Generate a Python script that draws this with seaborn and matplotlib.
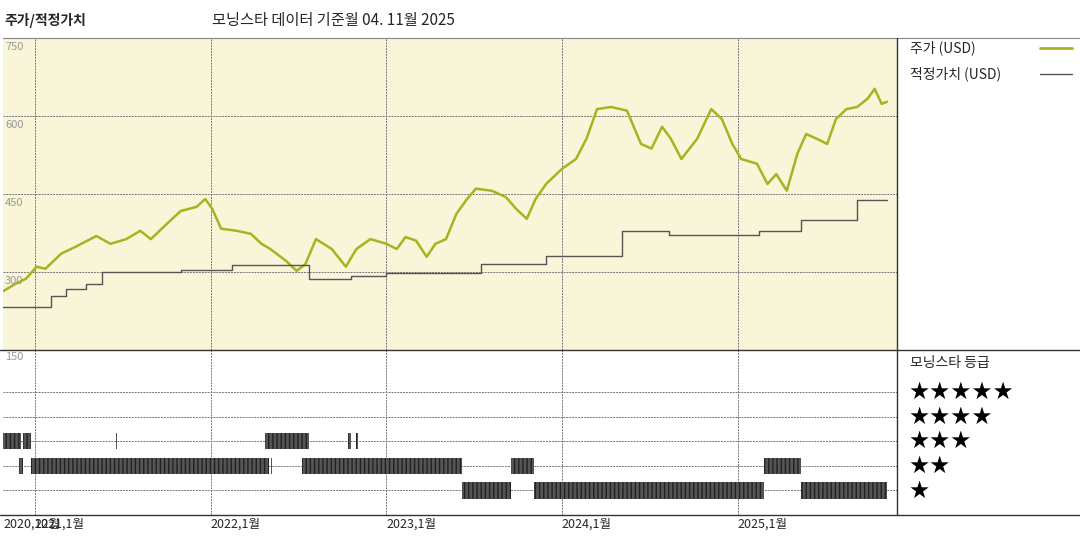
import matplotlib
matplotlib.use("Agg")
import matplotlib.pyplot as plt
import seaborn as sns
import pandas as pd
from matplotlib.lines import Line2D

sns.set_style("white")
plt.rcParams['font.family'] = ['Noto Sans CJK KR', 'DejaVu Sans']

price_t = [2020.82,2020.89,2020.95,2021.01,2021.06,2021.15,2021.23,2021.35,2021.43,2021.52,2021.60,2021.66,2021.75,2021.83,2021.92,2021.97,2022.01,2022.06,2022.15,2022.23,2022.29,2022.34,2022.43,2022.49,2022.54,2022.60,2022.69,2022.77,2022.83,2022.91,2023.00,2023.06,2023.11,2023.17,2023.23,2023.28,2023.34,2023.40,2023.46,2023.51,2023.60,2023.68,2023.74,2023.80,2023.85,2023.91,2024.00,2024.08,2024.14,2024.20,2024.28,2024.37,2024.45,2024.51,2024.57,2024.62,2024.68,2024.77,2024.85,2024.91,2024.97,2025.02,2025.11,2025.17,2025.22,2025.28,2025.34,2025.39,2025.45,2025.51,2025.56,2025.62,2025.68,2025.74,2025.78,2025.82,2025.85]
price_v = [263,277,287,310,306,335,348,369,354,363,379,363,392,417,425,440,421,383,379,373,354,344,321,302,315,363,344,310,344,363,354,344,367,360,329,354,363,412,440,460,456,444,421,402,440,469,498,517,556,613,617,610,546,537,579,556,517,556,613,594,546,517,508,469,488,456,527,565,556,546,594,613,617,633,652,623,627]

fv_t = [2020.82,2021.09,2021.18,2021.29,2021.38,2021.83,2022.12,2022.56,2022.80,2023.00,2023.54,2023.91,2024.34,2024.61,2025.12,2025.36,2025.68,2025.85]
fv_v = [233,254,267,277,300,304,313,287,292,298,315,331,379,371,379,400,438,438]

rating_stars = [3,3,3,3,3,3, 2,2,2,2,2,2, 1,1,1]
rating_start = [2020.82,2020.93,2021.46,2022.31,2022.78,2022.83, 2020.91,2020.98,2022.345,2022.52,2023.71,2025.15, 2023.43,2023.84,2025.36]
rating_end   = [2020.92,2020.98,2021.47,2022.56,2022.80,2022.84, 2020.93,2022.33,2022.35,2023.43,2023.84,2025.36, 2023.71,2025.15,2025.85]

xticks = [2020.82, 2021.0, 2022.0, 2023.0, 2024.0, 2025.0]
xtick_labels = ["2020,12월", "2021,1월", "2022,1월", "2023,1월", "2024,1월", "2025,1월"]
yticks = [300, 450, 600, 750]

XMIN, XMAX = 2020.82, 2025.91
fig = plt.figure(figsize=(10.8, 5.4), dpi=100)
ax = fig.add_axes([0.003, 0.352, 0.828, 0.578])
ax2 = fig.add_axes([0.003, 0.046, 0.828, 0.306])

ax.set_facecolor("#F8F5D8")
dfp = pd.DataFrame({"t": price_t, "v": price_v})
dff = pd.DataFrame({"t": fv_t, "v": fv_v})
sns.lineplot(data=dfp, x="t", y="v", ax=ax, color="#A9B320", lw=1.8)
sns.lineplot(data=dff, x="t", y="v", ax=ax, color="#555555", lw=1.0, drawstyle="steps-post")
ax.set_xlim(XMIN, XMAX); ax.set_ylim(150, 750)
ax.set_xticks(xticks[1:]); ax.set_yticks(yticks)
ax.grid(True, ls=(0, (2, 1)), color="#777777", lw=0.7)
ax.tick_params(length=0, labelbottom=False, labelleft=False)
ax.set_xlabel(""); ax.set_ylabel("")
for s in ax.spines.values(): s.set_visible(False)
for y in yticks:
    ax.text(XMIN + 0.01, y - 8, str(y), fontsize=8, color="#999999", va="top", ha="left")

for st, a, b in zip(rating_stars, rating_start, rating_end):
    ax2.broken_barh([(a, b - a)], (st - 0.33, 0.66), facecolor="#555555",
                    edgecolor="#222222", hatch="||||", lw=0)
ax2.set_xlim(XMIN, XMAX); ax2.set_ylim(0, 6.7)
ax2.set_xticks(xticks[1:]); ax2.set_yticks([1, 2, 3, 4, 5])
ax2.grid(True, ls=(0, (2, 1)), color="#777777", lw=0.7)
ax2.tick_params(length=0, labelbottom=False, labelleft=False)
for s in ax2.spines.values(): s.set_visible(False)
ax2.text(XMIN + 0.01, 6.6, "150", fontsize=8, color="#999999", va="top", ha="left")
for x, lab in zip(xticks, xtick_labels):
    ax2.text(x, -0.1, lab, fontsize=9, va="top", ha="left", transform=ax2.transData, clip_on=False)

def fl(x0, y0, x1, y1, c="#333333", lw=1.0):
    fig.add_artist(Line2D([x0/1080, x1/1080], [1-y0/540, 1-y1/540], color=c, lw=lw))
fl(3, 38, 1080, 38, "#888888", 0.8)
fl(0, 350, 1080, 350)
fl(0, 515, 1080, 515)
fl(897, 38, 897, 515)
fl(1040, 48, 1072, 48, "#A9B320", 2.0)
fl(1040, 74, 1072, 74, "#555555", 1.0)

fig.text(4/1080, 1-20/540, "주가/적정가치", fontsize=10, fontweight="bold", va="center")
fig.text(212/1080, 1-20/540, "모닝스타 데이터 기준월 04. 11월 2025", fontsize=11, va="center")
fig.text(910/1080, 1-48/540, "주가 (USD)", fontsize=10, va="center")
fig.text(910/1080, 1-74/540, "적정가치 (USD)", fontsize=10, va="center")
fig.text(910/1080, 1-363/540, "모닝스타 등급", fontsize=10, va="center")
for i, y in enumerate([392, 417, 441, 466, 491]):
    fig.text(908/1080, 1-y/540, "★" * (5 - i), fontsize=17, va="center", color="black",
             family=["DejaVu Sans"])

fig.savefig("out.png", dpi=100)
